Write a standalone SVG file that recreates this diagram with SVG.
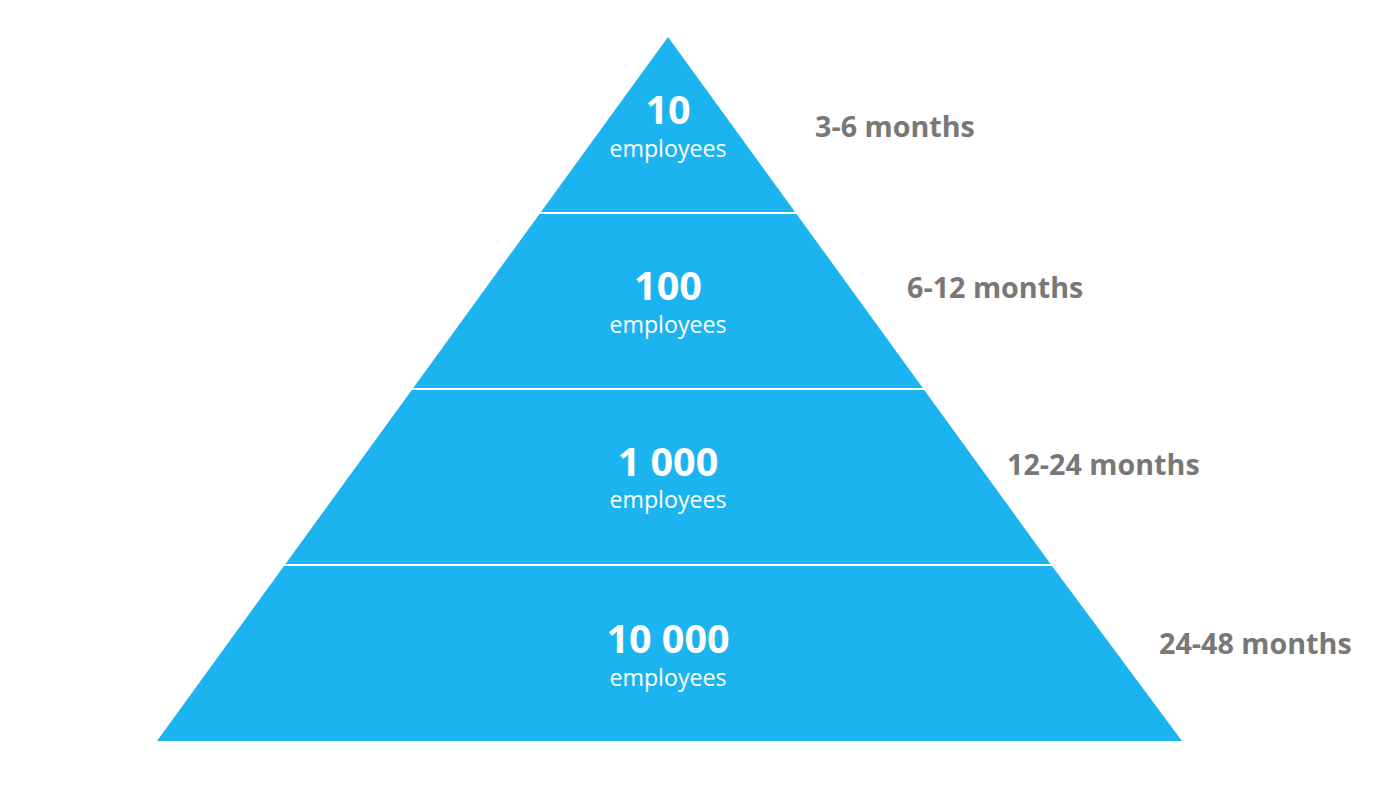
<svg xmlns="http://www.w3.org/2000/svg" width="1400" height="787" viewBox="0 0 1400 787">
<style>
.band{fill:#1BB3F0;}
.num{font-family:"Open Sans",sans-serif;font-weight:bold;font-size:39.5px;fill:#fff;text-anchor:middle;}
.sub{font-family:"Open Sans",sans-serif;font-size:23.2px;fill:#fff;text-anchor:middle;}
.lbl{font-family:"Open Sans",sans-serif;font-weight:bold;font-size:28.7px;fill:#787878;}
.div{stroke:#fff;stroke-width:2;}
</style>
<rect width="1400" height="787" fill="#fff"/>
<g id="tier1">
<polygon class="band" points="668,37 540.2,213 795.8,213"/>
<text class="num" x="668" y="124">10</text>
<text class="sub" x="668" y="157">employees</text>
</g>
<g id="tier2">
<polygon class="band" points="540.2,213 795.8,213 923.5,389 412.5,389"/>
<text class="num" x="668" y="300">100</text>
<text class="sub" x="668" y="333">employees</text>
</g>
<g id="tier3">
<polygon class="band" points="412.5,389 923.5,389 1051.3,565 284.7,565"/>
<text class="num" x="668" y="476">1 000</text>
<text class="sub" x="668" y="508">employees</text>
</g>
<g id="tier4">
<polygon class="band" points="284.7,565 1051.3,565 1182,741 157,741"/>
<text class="num" x="668" y="653">10 000</text>
<text class="sub" x="668" y="686">employees</text>
</g>
<g id="connectors">
<line class="div" x1="538" y1="213" x2="798" y2="213"/>
<line class="div" x1="410" y1="389" x2="926" y2="389"/>
<line class="div" x1="282" y1="565" x2="1054" y2="565"/>
</g>
<g id="labels">
<text class="lbl" x="815" y="137">3-6 months</text>
<text class="lbl" x="907" y="298">6-12 months</text>
<text class="lbl" x="1007" y="475">12-24 months</text>
<text class="lbl" x="1159" y="654">24-48 months</text>
</g>
</svg>
